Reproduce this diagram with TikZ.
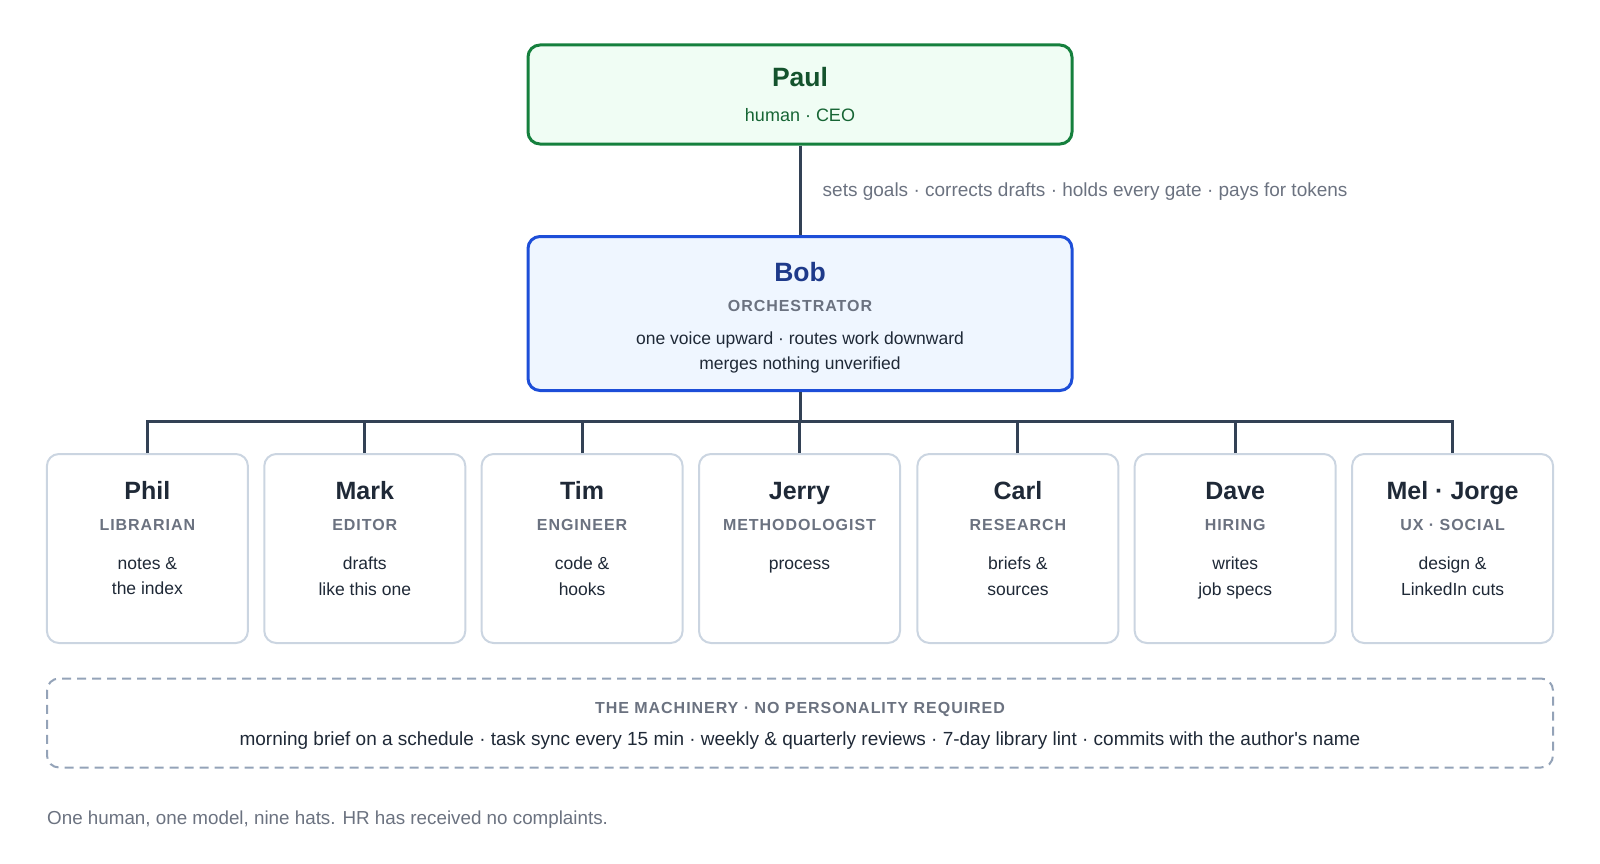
\documentclass[tikz,border=0pt]{standalone}
\usepackage{fontspec}
\setmainfont{Liberation Sans}
\newfontfamily\capsfont[LetterSpace=6]{Liberation Sans}
\definecolor{paulborder}{HTML}{15803D}
\definecolor{paulfill}{HTML}{F0FDF4}
\definecolor{paultitle}{HTML}{14532D}
\definecolor{paulsub}{HTML}{166534}
\definecolor{bobborder}{HTML}{1D4ED8}
\definecolor{bobfill}{HTML}{EFF6FF}
\definecolor{bobtitle}{HTML}{1E3A8A}
\definecolor{rolegray}{HTML}{6B7280}
\definecolor{textdark}{HTML}{1F2937}
\definecolor{cardborder}{HTML}{CBD5E1}
\definecolor{wire}{HTML}{334155}
\definecolor{dashborder}{HTML}{94A3B8}
\tikzset{
  basebox/.style={rectangle, rounded corners=12pt, inner sep=0pt},
  paulbox/.style={basebox, draw=paulborder, fill=paulfill, line width=3pt, minimum width=544pt, minimum height=99pt},
  bobbox/.style={basebox, draw=bobborder, fill=bobfill, line width=3pt, minimum width=544pt, minimum height=154pt},
  cardbox/.style={basebox, draw=cardborder, fill=white, line width=2pt, minimum width=201pt, minimum height=189pt},
  machinebox/.style={basebox, draw=dashborder, line width=2pt, dash pattern=on 9pt off 6pt, minimum width=1506pt, minimum height=89pt},
  wirestyle/.style={draw=wire, line width=3pt},
  nametext/.style={inner sep=0pt, anchor=base, font=\fontsize{25}{30}\selectfont\bfseries, text=textdark},
  toptitle/.style={nametext, font=\fontsize{26.5}{32}\selectfont\bfseries},
  roletext/.style={inner sep=0pt, font=\fontsize{16}{19}\selectfont\capsfont\bfseries, text=rolegray},
  desctext/.style={inner sep=0pt, font=\fontsize{17.5}{25.5}\selectfont, text=textdark, align=center},
  carddesc/.style={desctext, anchor=north, execute at begin node={\vphantom{Ag}}},
  notetext/.style={inner sep=0pt, font=\fontsize{19}{23}\selectfont, text=rolegray},
}
\begin{document}
\begin{tikzpicture}[x=1pt,y=-1pt]
\useasboundingbox (0,0) rectangle (1600,864);
% Paul
\node[paulbox] (paul) at (800,94.5) {};
\node[toptitle, text=paultitle] (paulname) at (800,86.2) {Paul};
\node[desctext, text=paulsub, font=\fontsize{18}{22}\selectfont] (paulrole) at (800,115.5) {human · CEO};
% Bob
\node[bobbox] (bob) at (800,313.5) {};
\node[toptitle, text=bobtitle] (bobname) at (800,281.2) {Bob};
\node[roletext] (bobrole) at (800,306) {ORCHESTRATOR};
\node[desctext] (bobdesc) at (800,352.5) {one voice upward · routes work downward\\merges nothing unverified};
% edge Paul -> Bob
\draw[wirestyle] (paul.south) -- (bob.north);
\node[notetext, anchor=west] (paullabel) at (822.5,192) {sets goals · corrects drafts · holds every gate · pays for tokens};
% children
\coordinate (bus) at (800,421.5);
\foreach \id/\cx/\nm/\rl/\ds in {
  phil/147.4/Phil/LIBRARIAN/{notes \&\\the index},
  mark/364.8/Mark/EDITOR/{drafts\\like this one},
  tim/582.1/Tim/ENGINEER/{code \&\\hooks},
  jerry/799.5/Jerry/METHODOLOGIST/{process},
  carl/1017.9/Carl/RESEARCH/{briefs \&\\sources},
  dave/1235.2/Dave/HIRING/{writes\\job specs},
  mel/1452.6/Mel · Jorge/UX · SOCIAL/{design \&\\LinkedIn cuts}}{
  \node[cardbox] (\id) at (\cx,548.5) {};
  \node[nametext] (\id name) at (\cx,499.9) {\nm};
  \node[roletext] (\id role) at (\cx,524.8) {\rl};
  \node[carddesc] (\id desc) at (\cx,557) {\ds};
}
\draw[wirestyle] (bob.south) -- (bus);
\draw[wirestyle] (phil.north) -- (phil.north |- bus) -- (mel.north |- bus) -- (mel.north);
\foreach \id in {mark,tim,jerry,carl,dave}{
  \draw[wirestyle] (\id.north) -- (\id.north |- bus);
}
% machinery
\node[machinebox] (machine) at (800,723) {};
\node[roletext] (machtitle) at (800,709) {THE MACHINERY · NO PERSONALITY REQUIRED};
\node[desctext, font=\fontsize{19}{23}\selectfont] (machline) at (800,741) {morning brief on a schedule · task sync every 15 min · weekly \& quarterly reviews · 7-day library lint · commits with the author\textquotesingle s name};
% footer
\node[notetext, font=\fontsize{18.8}{22}\selectfont, anchor=west] (footer) at (47,819.5) {One human, one model, nine hats. HR has received no complaints.};
\end{tikzpicture}
\end{document}
